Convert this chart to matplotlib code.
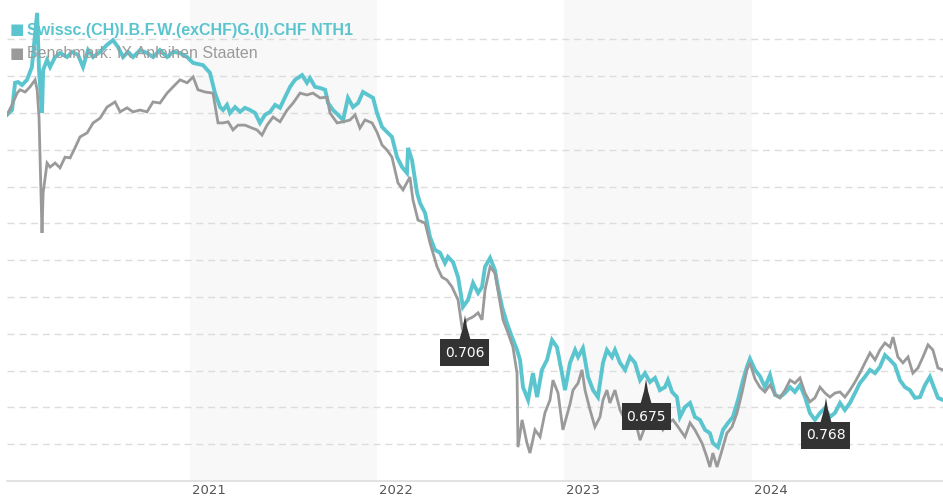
#!/usr/bin/python3
# Fund vs benchmark performance line chart

# Packages
import matplotlib
matplotlib.use('Agg')
import matplotlib.pyplot as plt
import matplotlib.transforms as mtransforms
from matplotlib.patches import Polygon, Rectangle

# Series names
fund_name = 'Swissc.(CH)I.B.F.W.(exCHF)G.(I).CHF NTH1'
bench_name = 'Benchmark: IX Anleihen Staaten'

# Fund: time (decimal year) and value (chart units, no y labels shown)
fund_t = [2020.023, 2020.050, 2020.066, 2020.082, 2020.103, 2020.130, 2020.156, 2020.184, 2020.194, 2020.210,
          2020.216, 2020.237, 2020.253, 2020.280, 2020.306, 2020.344, 2020.370, 2020.402, 2020.429, 2020.456,
          2020.483, 2020.520, 2020.557, 2020.589, 2020.616, 2020.643, 2020.670, 2020.696, 2020.734, 2020.771,
          2020.803, 2020.840, 2020.878, 2020.910, 2020.947, 2020.985, 2021.017, 2021.070, 2021.107, 2021.134,
          2021.161, 2021.177, 2021.198, 2021.214, 2021.241, 2021.268, 2021.294, 2021.321, 2021.348, 2021.374,
          2021.401, 2021.428, 2021.455, 2021.481, 2021.508, 2021.535, 2021.561, 2021.599, 2021.625, 2021.641,
          2021.668, 2021.695, 2021.722, 2021.738, 2021.764, 2021.791, 2021.818, 2021.844, 2021.871, 2021.898,
          2021.924, 2021.951, 2021.978, 2021.999, 2022.026, 2022.053, 2022.079, 2022.106, 2022.133, 2022.159,
          2022.165, 2022.186, 2022.213, 2022.229, 2022.256, 2022.282, 2022.309, 2022.336, 2022.362, 2022.378,
          2022.405, 2022.432, 2022.458, 2022.485, 2022.512, 2022.539, 2022.560, 2022.576, 2022.603, 2022.629,
          2022.645, 2022.667, 2022.693, 2022.720, 2022.747, 2022.763, 2022.779, 2022.806, 2022.832, 2022.854,
          2022.880, 2022.907, 2022.934, 2022.960, 2022.987, 2023.003, 2023.030, 2023.057, 2023.073, 2023.099,
          2023.126, 2023.153, 2023.179, 2023.206, 2023.227, 2023.254, 2023.270, 2023.297, 2023.324, 2023.350,
          2023.377, 2023.404, 2023.430, 2023.457, 2023.484, 2023.510, 2023.537, 2023.553, 2023.575, 2023.601,
          2023.617, 2023.644, 2023.671, 2023.697, 2023.724, 2023.751, 2023.777, 2023.793, 2023.820, 2023.847,
          2023.874, 2023.900, 2023.927, 2023.954, 2023.975, 2023.991, 2024.018, 2024.044, 2024.071, 2024.098,
          2024.125, 2024.151, 2024.178, 2024.205, 2024.231, 2024.258, 2024.285, 2024.311, 2024.338, 2024.365,
          2024.392, 2024.418, 2024.445, 2024.472, 2024.498, 2024.525, 2024.552, 2024.578, 2024.605, 2024.632,
          2024.659, 2024.685, 2024.712, 2024.739, 2024.765, 2024.792, 2024.819, 2024.845, 2024.872, 2024.899,
          2024.926, 2024.952, 2024.979, 2024.995, 2025.022]
fund_v = [9.95, 10.08, 10.82, 10.84, 10.76, 10.90, 11.25, 12.72, 11.17, 10.00,
          11.17, 11.44, 11.25, 11.52, 11.63, 11.52, 11.66, 11.58, 11.25, 11.71,
          11.52, 11.66, 11.85, 11.98, 11.79, 11.52, 11.66, 11.52, 11.71, 11.63,
          11.52, 11.71, 11.52, 11.66, 11.63, 11.52, 11.36, 11.30, 11.09, 10.54,
          10.16, 10.08, 10.22, 10.00, 10.16, 10.03, 10.14, 10.08, 10.00, 9.73,
          9.95, 10.03, 10.22, 10.14, 10.43, 10.71, 10.90, 11.03, 10.82, 10.95,
          10.71, 10.68, 10.63, 10.27, 10.08, 9.95, 9.81, 10.41, 10.16, 10.27,
          10.57, 10.49, 10.41, 10.00, 9.62, 9.48, 9.35, 8.80, 8.53, 8.37,
          9.05, 8.72, 7.83, 7.55, 7.28, 6.63, 6.28, 6.20, 5.92, 6.09,
          5.95, 5.54, 4.73, 4.92, 5.38, 5.11, 5.27, 5.82, 6.06, 5.73,
          5.27, 4.73, 4.29, 3.91, 3.56, 3.29, 2.55, 2.20, 2.93, 2.28,
          3.02, 3.29, 3.83, 3.64, 2.93, 2.47, 3.21, 3.56, 3.37, 3.61,
          2.83, 2.47, 2.28, 3.21, 3.56, 3.37, 3.56, 3.21, 3.02, 3.37,
          3.21, 2.74, 2.93, 2.69, 2.80, 2.47, 2.55, 2.74, 2.42, 2.28,
          1.74, 2.01, 2.12, 1.74, 1.66, 1.39, 1.30, 1.03, 0.92, 1.39,
          1.58, 1.74, 2.20, 2.74, 3.10, 3.32, 3.02, 2.85, 2.55, 2.88,
          2.34, 2.28, 2.39, 2.55, 2.42, 2.61, 2.28, 1.85, 1.66, 1.85,
          1.98, 1.74, 1.85, 2.12, 1.93, 2.12, 2.39, 2.66, 2.83, 3.02,
          2.93, 3.10, 3.42, 3.29, 3.15, 2.74, 2.55, 2.47, 2.26, 2.28,
          2.61, 2.83, 2.47, 2.26, 2.20]

# Benchmark: time (decimal year) and value
bench_t = [2020.023, 2020.050, 2020.077, 2020.093, 2020.120, 2020.146, 2020.173, 2020.184, 2020.194, 2020.210,
           2020.216, 2020.237, 2020.253, 2020.280, 2020.306, 2020.333, 2020.360, 2020.386, 2020.413, 2020.451,
           2020.483, 2020.520, 2020.557, 2020.600, 2020.627, 2020.664, 2020.696, 2020.734, 2020.771, 2020.803,
           2020.840, 2020.878, 2020.910, 2020.947, 2020.985, 2021.017, 2021.043, 2021.081, 2021.123, 2021.150,
           2021.177, 2021.204, 2021.230, 2021.257, 2021.294, 2021.332, 2021.358, 2021.385, 2021.412, 2021.444,
           2021.481, 2021.519, 2021.551, 2021.588, 2021.625, 2021.657, 2021.695, 2021.732, 2021.748, 2021.786,
           2021.818, 2021.855, 2021.882, 2021.908, 2021.935, 2021.973, 2021.999, 2022.026, 2022.053, 2022.079,
           2022.111, 2022.138, 2022.175, 2022.191, 2022.218, 2022.256, 2022.282, 2022.320, 2022.346, 2022.373,
           2022.400, 2022.432, 2022.453, 2022.480, 2022.512, 2022.539, 2022.560, 2022.576, 2022.603, 2022.629,
           2022.645, 2022.672, 2022.699, 2022.725, 2022.747, 2022.752, 2022.774, 2022.800, 2022.816, 2022.843,
           2022.870, 2022.896, 2022.923, 2022.939, 2022.966, 2022.992, 2023.030, 2023.046, 2023.073, 2023.094,
           2023.110, 2023.137, 2023.163, 2023.190, 2023.206, 2023.227, 2023.243, 2023.270, 2023.297, 2023.324,
           2023.350, 2023.377, 2023.404, 2023.430, 2023.468, 2023.500, 2023.526, 2023.553, 2023.580, 2023.607,
           2023.644, 2023.671, 2023.697, 2023.735, 2023.761, 2023.777, 2023.793, 2023.815, 2023.842, 2023.868,
           2023.895, 2023.922, 2023.948, 2023.975, 2023.991, 2024.018, 2024.044, 2024.071, 2024.098, 2024.125,
           2024.151, 2024.178, 2024.205, 2024.231, 2024.258, 2024.285, 2024.311, 2024.338, 2024.365, 2024.392,
           2024.418, 2024.445, 2024.472, 2024.498, 2024.525, 2024.552, 2024.578, 2024.605, 2024.632, 2024.659,
           2024.685, 2024.712, 2024.739, 2024.755, 2024.781, 2024.808, 2024.835, 2024.861, 2024.888, 2024.915,
           2024.942, 2024.968, 2024.995, 2025.022]
bench_v = [9.95, 10.22, 10.54, 10.63, 10.57, 10.71, 10.90, 10.63, 9.89, 6.74,
           7.83, 8.64, 8.53, 8.64, 8.51, 8.80, 8.78, 9.05, 9.35, 9.46,
           9.73, 9.86, 10.16, 10.30, 10.03, 10.14, 10.03, 10.08, 10.03, 10.30,
           10.27, 10.54, 10.71, 10.90, 10.82, 10.98, 10.63, 10.57, 10.54, 9.73,
           9.73, 9.76, 9.54, 9.67, 9.67, 9.59, 9.54, 9.40, 9.67, 9.89,
           9.76, 10.08, 10.27, 10.54, 10.49, 10.54, 10.41, 10.43, 10.00, 9.73,
           9.76, 9.81, 9.95, 9.59, 9.81, 9.73, 9.48, 9.13, 8.99, 8.80,
           8.10, 7.91, 8.26, 7.64, 7.09, 7.01, 6.47, 5.82, 5.54, 5.46,
           5.27, 4.92, 4.18, 4.38, 4.46, 4.57, 4.38, 5.19, 5.82, 5.65,
           5.19, 4.38, 4.02, 3.64, 2.93, 0.92, 1.66, 1.03, 0.76, 1.39,
           1.20, 1.85, 2.20, 2.74, 2.39, 1.39, 2.09, 2.47, 2.66, 3.02,
           2.47, 1.93, 1.47, 1.74, 2.20, 2.47, 2.12, 2.47, 1.93, 1.66,
           1.93, 1.66, 1.11, 1.47, 1.85, 1.66, 1.39, 1.58, 1.66, 1.47,
           1.20, 1.58, 1.39, 1.03, 0.65, 0.38, 0.76, 0.38, 0.84, 1.30,
           1.47, 1.85, 2.39, 3.02, 3.21, 2.77, 2.55, 2.42, 2.61, 2.34,
           2.26, 2.47, 2.74, 2.66, 2.80, 2.39, 2.15, 2.26, 2.55, 2.39,
           2.28, 2.39, 2.42, 2.28, 2.47, 2.69, 2.93, 3.21, 3.48, 3.29,
           3.56, 3.75, 3.64, 3.91, 3.37, 3.21, 3.37, 2.93, 3.07, 3.37,
           3.70, 3.56, 3.07, 3.02]

# Callout labels (time, value, text)
note_t = [2022.469, 2023.436, 2024.397]
note_v = [4.51, 2.77, 2.26]
note_txt = ['0.706', '0.675', '0.768']

# Year ticks and shaded years
year_ticks = [2021, 2022, 2023, 2024]
shaded_years = [2021, 2023]

# Colours
teal = '#5ac5cf'
grey = '#9a9a9a'

# Main window
fig = plt.figure(figsize=(9.43, 5.0), dpi=100, facecolor='white')
ax = fig.add_axes([7 / 943, 19 / 500, 936 / 943, 481 / 500])
ax.set_facecolor('white')

# Alternating year bands
for yr in shaded_years:
    ax.axvspan(yr, yr + 1, color='#f8f8f8', lw=0, zorder=0)

# Dashed gridlines
for g in range(1, 13):
    ax.axhline(g, color='#dcdcdc', lw=1.0, dashes=(5, 3.5), zorder=1)

# Lines
ax.plot(fund_t, fund_v, color=teal, lw=2.8, solid_joinstyle='miter', zorder=3)
ax.plot(bench_t, bench_v, color=grey, lw=2.0, solid_joinstyle='miter', zorder=4)

ax.set_xlim(2020.023, 2025.022)
ax.set_ylim(0, 13.07)

# Axis styling
for s in ['top', 'left', 'right']:
    ax.spines[s].set_visible(False)
ax.spines['bottom'].set_color('#dddddd')
ax.spines['bottom'].set_linewidth(1.2)
ax.set_yticks([])
ax.set_xticks(year_ticks)
ax.set_xticklabels([str(y) for y in year_ticks], ha='left', fontsize=9.5,
                   color='#555555', family='DejaVu Sans')
ax.tick_params(axis='x', length=0, pad=2)
for lbl in ax.get_xticklabels():
    lbl.set_transform(lbl.get_transform() + mtransforms.Affine2D().translate(2, 0))

# Callouts: dark box with white text and a spike pointing at the value
for t, v, txt in zip(note_t, note_v, note_txt):
    tr = mtransforms.IdentityTransform() + mtransforms.ScaledTranslation(t, v, ax.transData)
    spike = Polygon([(0, 0), (-2, -12), (-5.5, -24.5), (5.5, -24.5), (2, -12)],
                    closed=True, transform=tr, fc='#333333', ec='none', zorder=6)
    ax.add_patch(spike)
    box = Rectangle((-24.5, -51), 49, 27, transform=tr, fc='#333333', ec='none', zorder=6)
    ax.add_patch(box)
    ax.text(0, -37.5, txt, transform=tr, ha='center', va='center', color='white',
            fontsize=10, family='DejaVu Sans', zorder=7)

# Legend (drawn under the lines)
fig.text(10 / 943, 1 - 30 / 500, '\u25a0', color=teal, fontsize=11, va='center', ha='left', zorder=2)
fig.text(27 / 943, 1 - 30 / 500, fund_name, color=teal, fontsize=11.5, fontweight='bold',
         family='Liberation Sans', va='center', ha='left', zorder=2)
fig.text(10 / 943, 1 - 53 / 500, '\u25a0', color=grey, fontsize=11, va='center', ha='left', zorder=2)
fig.text(27 / 943, 1 - 53 / 500, bench_name, color=grey, fontsize=11.5,
         family='Liberation Sans', va='center', ha='left', zorder=2)

# Save
fig.savefig('out.png', dpi=100, facecolor='white')
